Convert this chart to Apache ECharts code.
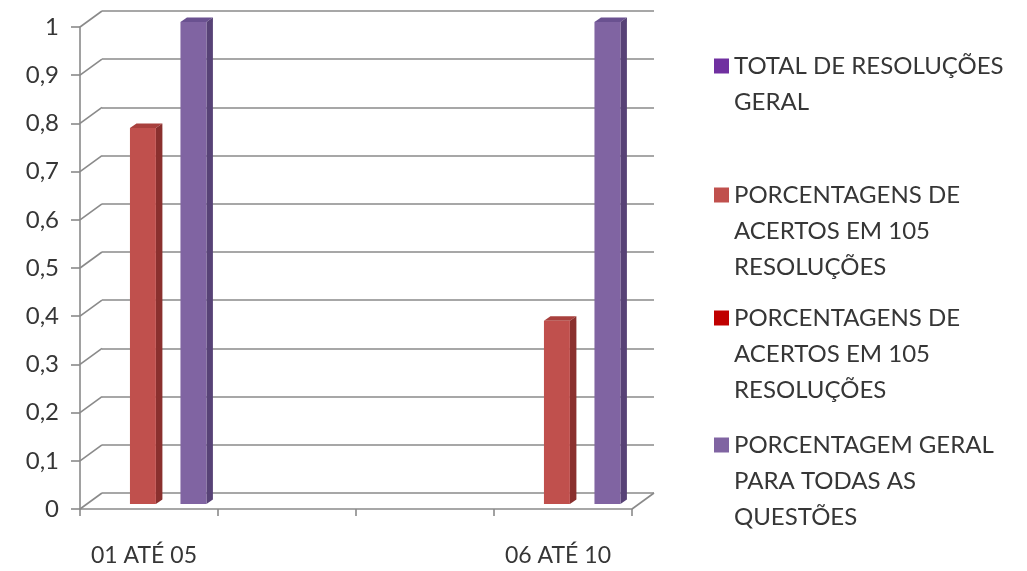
<!DOCTYPE html>
<html>
<head>
<meta charset="utf-8">
<script src="https://cdn.jsdelivr.net/npm/echarts@6/dist/echarts.min.js"></script>
<style>
  html, body { margin: 0; padding: 0; background: #ffffff; }
  #chart { width: 1027px; height: 571px; }
</style>
</head>
<body>
<div id="chart"></div>
<script>
// Question ranges on the horizontal axis
const categories = ['01 ATÉ 05', '', '', '06 ATÉ 10'];

// Series keys, in plotting order (slot order inside each category)
const seriesKeys = ['totalGeral', 'acertos105', 'acertos105b', 'geralQuestoes'];

// Legend text, one array of lines per series
const legendLines = [
  ['TOTAL DE RESOLUÇÕES', 'GERAL'],
  ['PORCENTAGENS DE', 'ACERTOS EM 105', 'RESOLUÇÕES'],
  ['PORCENTAGENS DE', 'ACERTOS EM 105', 'RESOLUÇÕES'],
  ['PORCENTAGEM GERAL', 'PARA TODAS AS', 'QUESTÕES']
];

// Values per series
const totalGeral = [null, null, null, null];
const acertos105 = [0.78, null, null, 0.38];
const acertos105b = [null, null, null, null];
const geralQuestoes = [1, null, null, 1];

// Value-axis ticks
const yTicks = [0, 0.1, 0.2, 0.3, 0.4, 0.5, 0.6, 0.7, 0.8, 0.9, 1];

const seriesValues = [totalGeral, acertos105, acertos105b, geralQuestoes];

// Face colours for the pseudo-3D columns: front, side, top
const faceColors = [
  { front: '#7030A0', side: '#4E2070', top: '#5E288A' },
  { front: '#C0504D', side: '#8A302E', top: '#A8403D' },
  { front: '#C00000', side: '#860000', top: '#A00000' },
  { front: '#8064A2', side: '#574276', top: '#6A5190' }
];

const FONT = 'Lato';
const TEXT_COLOR = '#363636';
const LINE_COLOR = '#8a8a8a';

// Depth of the chart box (back wall offset) and of each column
const WALL_DX = 22, WALL_DY = -16;
const BAR_DX = 6.5, BAR_DY = -4.5, BAR_LIFT = 5;
// Column geometry as fractions of a category band
const SLOT0 = 0.179, SLOT_STEP = 0.183, BAR_W = 0.188;

function columnRenderer(slot, faces) {
  return function (params, api) {
    const v = api.value(1);
    if (v == null || isNaN(v)) return null;
    const cat = api.value(0);
    const band = api.size([1, 0])[0];
    const base = api.coord([cat, 0]);
    const top = api.coord([cat, v]);
    const x0 = base[0] - band / 2 + (SLOT0 + slot * SLOT_STEP) * band;
    const w = BAR_W * band;
    const yb = base[1] - BAR_LIFT;
    const yt = top[1] - BAR_LIFT;
    return {
      type: 'group',
      children: [
        {
          type: 'polygon',
          shape: { points: [[x0, yt], [x0 + w, yt], [x0 + w + BAR_DX, yt + BAR_DY], [x0 + BAR_DX, yt + BAR_DY]] },
          style: { fill: faces.top }
        },
        {
          type: 'polygon',
          shape: { points: [[x0 + w, yb], [x0 + w, yt], [x0 + w + BAR_DX, yt + BAR_DY], [x0 + w + BAR_DX, yb + BAR_DY]] },
          style: { fill: faces.side }
        },
        {
          type: 'rect',
          shape: { x: x0, y: yt, width: w, height: yb - yt },
          style: { fill: faces.front }
        }
      ]
    };
  };
}

// Diagonal edges joining the front axis to the back wall
function wallEdgeRenderer(params, api) {
  const cat = api.value(0);
  const v = api.value(1);
  const side = api.value(2);
  const band = api.size([1, 0])[0];
  const p = api.coord([cat, v]);
  const x = side === 0 ? p[0] - band / 2 : p[0] + band / 2;
  return {
    type: 'line',
    shape: { x1: x, y1: p[1], x2: x + WALL_DX, y2: p[1] + WALL_DY },
    style: { stroke: LINE_COLOR, lineWidth: 1.6 }
  };
}

const wallEdges = yTicks.map(v => [0, v, 0]).concat([[categories.length - 1, 0, 1]]);

const columnSeries = seriesKeys.map((key, i) => ({
  name: key,
  type: 'custom',
  xAxisIndex: 0,
  yAxisIndex: 0,
  itemStyle: { color: faceColors[i].front },
  encode: { x: 0, y: 1 },
  data: seriesValues[i].map((v, c) => [c, v]),
  renderItem: columnRenderer(i, faceColors[i]),
  z: 5
}));

// One legend block per series; the first line lines up with the colour square
const LEGEND_LINE = 36;
const legendFirstLine = [66, 195, 318, 445];
const legends = seriesKeys.map((key, i) => {
  const n = legendLines[i].length;
  const h = (2 * n - 1) * LEGEND_LINE;
  return {
    data: [key],
    orient: 'vertical',
    left: 714,
    top: legendFirstLine[i] - h / 2,
    padding: 0,
    itemWidth: 15,
    itemHeight: 15,
    icon: 'rect',
    selectedMode: false,
    itemStyle: { borderWidth: 0 },
    formatter: () => new Array(n - 1).fill('').concat(legendLines[i]).join('\n'),
    textStyle: { fontFamily: FONT, fontSize: 24, color: TEXT_COLOR, lineHeight: LEGEND_LINE }
  };
});

const chart = echarts.init(document.getElementById('chart'), null, { renderer: 'canvas' });

chart.setOption({
  backgroundColor: '#ffffff',
  animation: false,
  legend: legends,
  grid: [
    // front plane (axes and columns)
    { left: 80, right: 395, top: 27, bottom: 62 },
    // back wall (gridlines)
    { left: 80 + WALL_DX, right: 395 - WALL_DX, top: 27 + WALL_DY, bottom: 62 - WALL_DY }
  ],
  xAxis: [
    {
      type: 'category',
      gridIndex: 0,
      data: categories,
      boundaryGap: true,
      axisLine: { show: true, lineStyle: { color: LINE_COLOR, width: 1.6 } },
      axisTick: { show: true, length: 7, lineStyle: { color: LINE_COLOR, width: 1.6 } },
      axisLabel: {
        interval: 0,
        margin: 35,
        padding: [0, 10, 0, 0],
        fontFamily: FONT,
        fontSize: 23,
        color: TEXT_COLOR
      },
      splitLine: { show: false }
    },
    {
      type: 'category',
      gridIndex: 1,
      data: categories,
      show: false
    }
  ],
  yAxis: [
    {
      type: 'value',
      gridIndex: 0,
      min: 0,
      max: 1,
      interval: 0.1,
      axisLine: { show: true, lineStyle: { color: LINE_COLOR, width: 1.6 } },
      axisTick: { show: true, length: 9, lineStyle: { color: LINE_COLOR, width: 1.6 } },
      axisLabel: {
        margin: 21,
        fontFamily: FONT,
        fontSize: 24,
        color: TEXT_COLOR,
        formatter: v => String(Math.round(v * 10) / 10).replace('.', ',')
      },
      splitLine: { show: false }
    },
    {
      type: 'value',
      gridIndex: 1,
      min: 0,
      max: 1,
      interval: 0.1,
      axisLine: { show: false },
      axisTick: { show: false },
      axisLabel: { show: false },
      splitLine: { show: true, lineStyle: { color: LINE_COLOR, width: 1.6 } }
    }
  ],
  series: [
    {
      name: 'wallEdges',
      type: 'custom',
      xAxisIndex: 0,
      yAxisIndex: 0,
      encode: { x: 0, y: 1 },
      data: wallEdges,
      renderItem: wallEdgeRenderer,
      silent: true,
      z: 1
    }
  ].concat(columnSeries)
});
</script>
</body>
</html>
